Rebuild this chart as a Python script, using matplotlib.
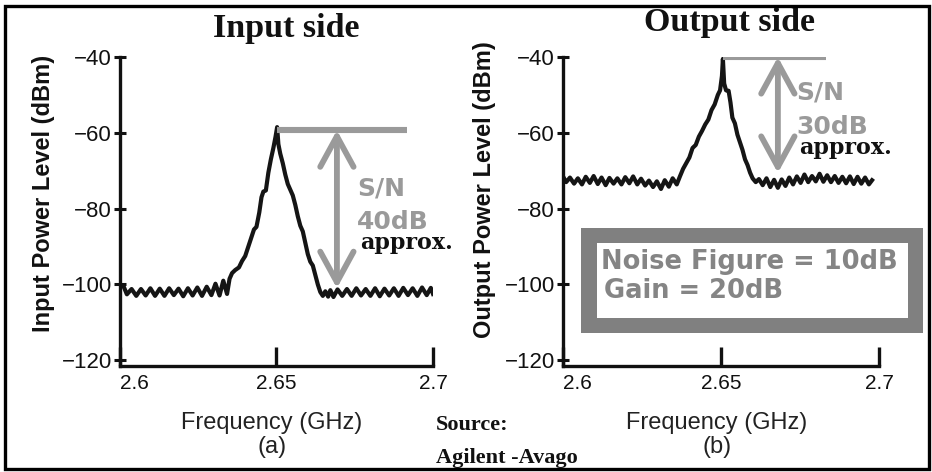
import matplotlib
matplotlib.use("Agg")
import matplotlib.pyplot as plt
from matplotlib.patches import Rectangle

# espectro no lado de entrada (GHz, dBm)
freq_in = [2.6000, 2.6012, 2.6022, 2.6037, 2.6052, 2.6067, 2.6082, 2.6097, 2.6112, 2.6127,
           2.6142, 2.6157, 2.6172, 2.6187, 2.6202, 2.6217, 2.6232, 2.6247, 2.6262, 2.6277,
           2.6292, 2.6305, 2.6318, 2.6330, 2.6342, 2.6350, 2.6358, 2.6368, 2.6380, 2.6390,
           2.6400, 2.6410, 2.6420, 2.6428, 2.6436, 2.6445, 2.6452, 2.6458, 2.6466, 2.6474,
           2.6482, 2.6490, 2.6497, 2.6502, 2.6506, 2.6512, 2.6520, 2.6528, 2.6536, 2.6544,
           2.6552, 2.6560, 2.6568, 2.6576, 2.6584, 2.6592, 2.6600, 2.6608, 2.6616, 2.6624,
           2.6632, 2.6640, 2.6648, 2.6656, 2.6665, 2.6672, 2.6682, 2.6695, 2.6710, 2.6725,
           2.6740, 2.6755, 2.6770, 2.6785, 2.6800, 2.6815, 2.6830, 2.6845, 2.6860, 2.6875,
           2.6890, 2.6905, 2.6920, 2.6935, 2.6950, 2.6965, 2.6980, 2.6993, 2.7000]
power_in = [-100.2, -100.6, -102.6, -101.2, -103.0, -101.2, -102.9, -101.0, -103.0, -101.1,
            -103.0, -101.0, -102.8, -101.1, -103.1, -101.0, -102.9, -100.8, -103.0, -100.6,
            -102.8, -99.8, -102.9, -99.0, -102.5, -98.5, -97.0, -96.2, -95.5, -93.8,
            -92.5, -90.0, -87.5, -85.5, -84.8, -81.0, -77.0, -75.5, -75.2, -70.5,
            -67.0, -64.0, -61.0, -58.5, -63.0, -65.5, -68.0, -71.0, -73.5, -75.0,
            -76.5, -79.0, -82.0, -84.5, -86.0, -89.0, -92.0, -94.0, -95.0, -97.5,
            -100.0, -102.0, -103.0, -101.8, -103.2, -101.5, -103.3, -101.3, -103.0, -101.2,
            -103.0, -101.0, -102.9, -101.2, -103.0, -101.0, -103.1, -101.1, -102.9, -101.0,
            -103.0, -100.9, -102.8, -101.0, -103.0, -100.8, -102.8, -100.9, -102.5]

# espectro no lado de saida
freq_out = [2.6000, 2.6010, 2.6022, 2.6035, 2.6047, 2.6060, 2.6072, 2.6085, 2.6097, 2.6110,
            2.6122, 2.6135, 2.6147, 2.6160, 2.6172, 2.6185, 2.6197, 2.6210, 2.6222, 2.6235,
            2.6247, 2.6260, 2.6272, 2.6285, 2.6297, 2.6310, 2.6322, 2.6335, 2.6347, 2.6360,
            2.6370, 2.6380, 2.6390, 2.6400, 2.6410, 2.6420, 2.6430, 2.6440, 2.6450, 2.6460,
            2.6470, 2.6480, 2.6490, 2.6497, 2.6503, 2.6506, 2.6510, 2.6516, 2.6524, 2.6530,
            2.6536, 2.6544, 2.6552, 2.6560, 2.6568, 2.6576, 2.6584, 2.6592, 2.6600, 2.6610,
            2.6620, 2.6632, 2.6644, 2.6656, 2.6668, 2.6680, 2.6692, 2.6704, 2.6716, 2.6728,
            2.6740, 2.6752, 2.6764, 2.6776, 2.6788, 2.6800, 2.6812, 2.6824, 2.6836, 2.6848,
            2.6860, 2.6872, 2.6884, 2.6896, 2.6908, 2.6920, 2.6932, 2.6944, 2.6956, 2.6968,
            2.6978]
power_out = [-71.5, -73.0, -71.8, -73.4, -72.0, -73.6, -71.6, -73.2, -71.4, -73.5,
             -71.8, -73.8, -71.9, -73.4, -72.0, -73.6, -71.7, -73.3, -71.5, -73.6,
             -72.1, -73.9, -72.6, -74.3, -72.8, -74.8, -72.5, -74.2, -72.0, -73.6,
             -71.5, -69.5, -68.0, -66.5, -64.0, -63.2, -61.0, -59.5, -57.8, -56.5,
             -54.0, -52.5, -50.0, -48.8, -45.0, -40.5, -47.0, -48.8, -48.9, -52.0,
             -56.0, -57.5, -60.5, -62.5, -64.5, -67.0, -68.5, -70.5, -72.0, -73.0,
             -72.2, -73.8, -72.0, -74.3, -72.4, -74.5, -72.3, -74.0, -71.8, -73.6,
             -71.5, -73.2, -71.0, -73.0, -71.4, -72.8, -70.8, -72.9, -71.2, -73.0,
             -71.4, -73.2, -71.6, -73.3, -71.5, -73.5, -71.6, -73.4, -71.8, -73.6,
             -72.5]

yticks = [-120, -100, -80, -60, -40]
xticks = [2.6, 2.65, 2.7]
xtick_labels = ["2.6", "2.65", "2.7"]

# sinal e piso de ruido (S/N)
sinal_in, ruido_in, sn_x_in, linha_fim_in = -59.3, -101.0, 2.6693, 2.6917
sinal_out, ruido_out, sn_x_out, linha_fim_out = -40.0, -70.6, 2.6680, 2.6832

W, H = 932, 472
SANS = ["Liberation Sans", "DejaVu Sans"]
SERIF = ["Liberation Serif", "DejaVu Serif"]
CINZA = "#9a9a9a"


def fx(px):
    return px / W


def fy(py):
    return 1 - py / H


def painel(fig, esquerda, direita, freq, power, sinal, ruido, sn_x, linha_fim):
    ax = fig.add_axes([fx(esquerda), fy(366), (direita - esquerda) / W, (366 - 57) / H])
    ax.plot(freq, power, color="#151515", lw=3.0, solid_joinstyle="round")
    ax.set_xlim(2.6, 2.7)
    ax.set_ylim(-121.5, -40)
    for lado in ["top", "right"]:
        ax.spines[lado].set_visible(False)
    for lado in ["left", "bottom"]:
        ax.spines[lado].set_linewidth(2.4)
        ax.spines[lado].set_color("#111111")
    ax.tick_params(axis="y", direction="inout", length=8, width=2.2, pad=2, colors="#111111")
    ax.tick_params(axis="x", direction="in", length=14, width=2.4, pad=6, colors="#111111")
    ax.set_yticks(yticks)
    ax.set_yticklabels(["\u2212" + str(abs(v)) for v in yticks], family=SANS, fontsize=16)
    ax.set_xticks(xticks)
    ax.set_xticklabels(xtick_labels, family=SANS, fontsize=15)
    ax.get_xticklabels()[0].set_ha("left")

    # linha do sinal e seta S/N
    ax.hlines(sinal, freq[power.index(max(power))], linha_fim, color=CINZA, lw=4.4)
    ax.annotate("", xy=(sn_x, ruido), xytext=(sn_x, sinal),
                arrowprops=dict(arrowstyle="<->,head_length=1.1,head_width=0.6",
                                mutation_scale=20, color=CINZA, lw=4.2,
                                shrinkA=0, shrinkB=0))
    return ax


fig = plt.figure(figsize=(W / 100, H / 100), dpi=100)

ax1 = painel(fig, 120, 433, freq_in, power_in, sinal_in, ruido_in, sn_x_in, linha_fim_in)
ax2 = painel(fig, 563, 879, freq_out, power_out, sinal_out, ruido_out, sn_x_out, linha_fim_out)

# titulos
fig.text(fx(286), fy(28), "Input side", family=SERIF, weight="bold", fontsize=24.5,
         ha="center", va="center", color="#111111")
fig.text(fx(729), fy(22), "Output side", family=SERIF, weight="bold", fontsize=24.5,
         ha="center", va="center", color="#111111")

# rotulos dos eixos
fig.text(fx(44), fy(193), "Input Power Level (dBm)", family=SANS, weight="bold",
         fontsize=17, rotation=90, ha="center", va="center", color="#111111")
fig.text(fx(485), fy(190), "Output Power Level (dBm)", family=SANS, weight="bold",
         fontsize=17, rotation=90, ha="center", va="center", color="#111111")
for cx, letra in [(272, "(a)"), (717, "(b)")]:
    fig.text(fx(cx), fy(423), "Frequency (GHz)", family=SANS, fontsize=17,
             ha="center", va="center", color="#222222")
    fig.text(fx(cx), fy(447), letra, family=SANS, fontsize=17,
             ha="center", va="center", color="#222222")

# textos S/N
for x0, ys, texto in [(357, (188, 222, 243), "40dB"), (796, (92, 127, 148), "30dB")]:
    fig.text(fx(x0), fy(ys[0]), "S/N", family=["DejaVu Sans"], weight="bold",
             fontsize=18, color=CINZA, ha="left", va="center")
    fig.text(fx(x0), fy(ys[1]), texto, family=["DejaVu Sans"], weight="bold",
             fontsize=18, color=CINZA, ha="left", va="center")
    fig.text(fx(x0 + 3), fy(ys[2]), "approx.", family=["DejaVu Serif"], weight="bold",
             fontsize=16, color="#111111", ha="left", va="center")

# fonte
fig.text(fx(436), fy(425), "Source:", family=SERIF, weight="bold",
         fontsize=16, color="#111111", ha="left", va="center")
fig.text(fx(436), fy(458), "Agilent -Avago", family=SERIF, weight="bold",
         fontsize=16, color="#111111", ha="left", va="center")

# caixa com NF e ganho
fig.patches.append(Rectangle((fx(581), fy(333)), (923 - 581) / W, (333 - 228) / H,
                             transform=fig.transFigure, facecolor="#808080",
                             edgecolor="none", zorder=2))
fig.patches.append(Rectangle((fx(597), fy(318)), (908 - 597) / W, (318 - 243) / H,
                             transform=fig.transFigure, facecolor="white",
                             edgecolor="none", zorder=3))
fig.text(fx(601), fy(262), "Noise Figure = 10dB", family=["DejaVu Sans"], weight="bold",
         fontsize=18.5, color="#858585", ha="left", va="center", zorder=4)
fig.text(fx(604), fy(291), "Gain = 20dB", family=["DejaVu Sans"], weight="bold",
         fontsize=18.5, color="#858585", ha="left", va="center", zorder=4)

# moldura
fig.patches.append(Rectangle((fx(4.5), fy(469)), (929 - 4.5) / W, (469 - 5.5) / H,
                             transform=fig.transFigure, facecolor="none",
                             edgecolor="black", lw=2.4, zorder=5))

fig.savefig("out.png", dpi=100)
